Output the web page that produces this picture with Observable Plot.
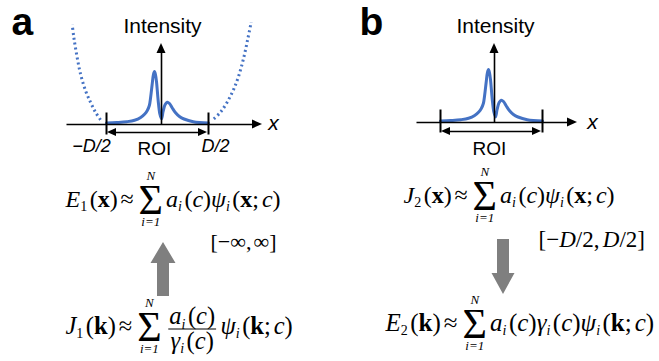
<!DOCTYPE html>
<html><head><meta charset="utf-8">
<script src="https://cdn.jsdelivr.net/npm/d3@7"></script>
<script src="https://cdn.jsdelivr.net/npm/@observablehq/plot@0.6"></script>
<style>html,body{margin:0;padding:0;background:#fff;overflow:hidden}#chart{width:659px;height:361px}</style>
</head><body><div id="chart"></div>
<script>
// ---------------- data ----------------
const panelLetters = ["a", "b"];
const axisTitle = "Intensity";
const axisVar = "x";
const roiLabel = "ROI";
const edgeLabels = ["−D/2", "D/2"];

// field intensity profile (u: position, -1 = -D/2, +1 = D/2; i: intensity)
const profileU = [-1, -0.8, -0.6, -0.45, -0.33, -0.25, -0.2, -0.16, -0.135, -0.105, -0.08, -0.059, -0.04, -0.02, 0.013, 0.046, 0.08, 0.11, 0.15, 0.19, 0.235, 0.29, 0.35, 0.43, 0.52, 0.7, 1];
const profileI = [1.5, 2, 2.8, 4.2, 7, 10.5, 14, 19, 27, 40, 50, 53, 50, 43, 24, 10.5, 5.5, 13, 20, 22.3, 21, 16.5, 12, 8, 5.5, 2.8, 1.5];
// dotted walls outside the ROI (panel a)
const wallLeftU = [-1.118, -1.216, -1.314, -1.412, -1.51, -1.588, -1.641, -1.673];
const wallLeftI = [4.7, 12.3, 22.3, 34, 50.7, 70.7, 87.3, 100];
const wallRightU = [1.104, 1.235, 1.366, 1.497, 1.595, 1.693, 1.771, 1.837];
const wallRightI = [5.7, 12.3, 22.3, 35.7, 49, 67.3, 85.7, 102.3];

// equation tokens
const T = (t, s = "r") => ({k: "t", t, s});
const I = t => T(t, "i"), R = t => T(t, "r"), B = t => T(t, "b");
const Sp = em => ({k: "sp", em});
const Sub = (t, s = "r") => ({k: "sub", t, s});
const Sum = () => ({k: "sum"});
const Frac = (num, den) => ({k: "frac", num, den});
const ai = [I("a"), Sub("i", "i"), R("("), I("c"), R(")")];
const gi = [I("γ"), Sub("i", "i"), R("("), I("c"), R(")")];
const psi = v => [I("ψ"), Sub("i", "i"), R("("), B(v), R(";"), Sp(0.12), I("c"), R(")")];
const approx = [Sp(0.12), R("≈"), Sp(0.12)];
const eqE1 = [I("E"), Sub("1"), R("("), B("x"), R(")"), ...approx, Sum(), ...ai, ...psi("x")];
const eqJ1 = [I("J"), Sub("1"), R("("), B("k"), R(")"), ...approx, Sum(), Sp(0.15), Frac(ai, gi), Sp(0.1), ...psi("k")];
const eqJ2 = [I("J"), Sub("2"), R("("), B("x"), R(")"), ...approx, Sum(), ...ai, ...psi("x")];
const eqE2 = [I("E"), Sub("2"), R("("), B("k"), R(")"), ...approx, Sum(), ...ai, ...gi, ...psi("k")];
const rangeA = [R("[−∞,"), Sp(0.1), R("∞]")];
const rangeB = [R("[−"), I("D"), R("/2,"), Sp(0.15), I("D"), R("/2]")];

// ---------------- layout ----------------
const BLUE = "#4472C4", GRAY = "#7F7F7F";
const SANS = "Liberation Sans, Arial, sans-serif", SERIF = "Liberation Serif";
const panelGeom = [
  {letterX: 11, cx: 157, half: 51, axisX: 161, axisY: 124, axisL: 66, axisR: 262, axisTop: 43, tickTop: 112, tickBot: 134, roiY: 132, xLabX: 268, xLabY: 129, roiX: 154, walls: true},
  {letterX: 359, cx: 491, half: 51, axisX: 494, axisY: 122, axisL: 416, axisR: 577, axisTop: 43, tickTop: 109, tickBot: 132, roiY: 131, xLabX: 587, xLabY: 128, roiX: 489, walls: false}
];
const eqPlace = [
  {tokens: eqE1, x: 65, y: 206, size: 24},
  {tokens: eqJ1, x: 65, y: 333, size: 24.5},
  {tokens: eqJ2, x: 403, y: 202, size: 24},
  {tokens: eqE2, x: 385, y: 330, size: 25},
  {tokens: rangeA, x: 210, y: 248, size: 22},
  {tokens: rangeB, x: 538, y: 246, size: 23}
];
const bigArrows = [
  {cx: 163, tail: 296, tip: 242, shaft: 12, head: 25, headLen: 21},
  {cx: 503, tail: 239, tip: 294, shaft: 12, head: 23, headLen: 21}
];
// typesetting metrics (px)
const M = {subSize: 14, subDy: 4.5, subGap: 2.5, sumSize: 42, sumDy: 7, limSize: 13, nDy: -27, lowDy: 19, numDy: -9.5, denDy: 15, barDy: -4.5};

const ctx = document.createElement("canvas").getContext("2d");
function wd(text, st, size) {
  ctx.font = (st === "i" ? "italic " : "") + (st === "b" ? "bold " : "") + size + "px '" + SERIF + "'";
  return ctx.measureText(text).width;
}
function typeset(tokens, x0, base, S, out, bars) {
  let x = x0;
  for (const tk of tokens) {
    if (tk.k === "t") {
      out.push({text: tk.t, st: tk.s, size: S, x, y: base});
      x += wd(tk.t, tk.s, S);
    } else if (tk.k === "sp") {
      x += tk.em * S;
    } else if (tk.k === "sub") {
      const s = M.subSize;
      out.push({text: tk.t, st: tk.s, size: s, x, y: base + M.subDy});
      x += wd(tk.t, tk.s, s) + M.subGap;
    } else if (tk.k === "sum") {
      const s = M.sumSize, sw = wd("Σ", "r", s), cx = x + 2 + sw / 2, ls = M.limSize;
      out.push({text: "Σ", st: "r", size: s, x: cx - sw / 2, y: base + M.sumDy});
      out.push({text: "N", st: "i", size: ls, x: cx - wd("N", "i", ls) / 2, y: base + M.nDy});
      out.push({text: "i=1", st: "i", size: ls, x: cx - wd("i=1", "i", ls) / 2, y: base + M.lowDy});
      x = cx + sw / 2 + 3;
    } else if (tk.k === "frac") {
      const wn = typeset(tk.num, 0, 0, S, [], []), wdn = typeset(tk.den, 0, 0, S, [], []);
      const W = Math.max(wn, wdn) + 2;
      typeset(tk.num, x + (W - wn) / 2, base + M.numDy, S, out, bars);
      typeset(tk.den, x + (W - wdn) / 2, base + M.denDy, S, out, bars);
      bars.push({x1: x, x2: x + W, y1: base + M.barDy, y2: base + M.barDy});
      x += W + 2;
    }
  }
  return x - x0;
}
const glyphs = [], fracBars = [];
for (const e of eqPlace) typeset(e.tokens, e.x, e.y, e.size, glyphs, fracBars);

// line segments, triangles and curves (pixel space)
const segs = [], tris = [], triV = [], curves = [], dotted = [], texts = [];
let tid = 0;
function triH(tipX, y, len, half, dir) { // dir +1 right, -1 left
  const id = tid++;
  const pts = [{id, x: tipX - dir * len, y1: y - half, y2: y + half}, {id, x: tipX, y1: y, y2: y}];
  if (dir < 0) pts.reverse();
  tris.push(...pts);
}
function triVert(x, tipY, len, half, dir) { // dir -1 up, +1 down
  const id = tid++;
  const pts = [{id, y: tipY - dir * len, x1: x - half, x2: x + half}, {id, y: tipY, x1: x, x2: x}];
  if (dir < 0) pts.reverse();
  triV.push(...pts);
}
panelGeom.forEach((g, p) => {
  const X = u => g.cx + u * g.half, Y = v => g.axisY - v;
  segs.push({x1: g.axisL, y1: g.axisY, x2: g.axisR - 9, y2: g.axisY, w: 1.6});
  triH(g.axisR, g.axisY, 10, 4.5, 1);
  segs.push({x1: g.axisX, y1: g.axisY, x2: g.axisX, y2: g.axisTop + 9, w: 1.6});
  triVert(g.axisX, g.axisTop, 10, 4.5, -1);
  for (const u of [-1, 1]) segs.push({x1: X(u), y1: g.tickTop, x2: X(u), y2: g.tickBot, w: 2});
  segs.push({x1: X(-1) + 6, y1: g.roiY, x2: X(1) - 6, y2: g.roiY, w: 1.6});
  triH(X(-1) + 1, g.roiY, 9, 4, -1);
  triH(X(1) - 1, g.roiY, 9, 4, 1);
  profileU.forEach((u, i) => curves.push({p, x: X(u), y: Y(profileI[i])}));
  if (g.walls) {
    wallLeftU.forEach((u, i) => dotted.push({p: "L", x: X(u), y: Y(wallLeftI[i])}));
    wallRightU.forEach((u, i) => dotted.push({p: "R", x: X(u), y: Y(wallRightI[i])}));
    texts.push({t: edgeLabels[0], x: 91, y: 151, size: 18, it: true});
    texts.push({t: edgeLabels[1], x: 215, y: 151, size: 18, it: true});
  }
  texts.push({t: axisTitle, x: g.axisX + 1, y: 32, size: 21, it: false});
  texts.push({t: roiLabel, x: g.roiX, y: 154, size: 19, it: false});
  texts.push({t: axisVar, x: g.xLabX + 5, y: g.xLabY, size: 21, it: true});
});
const letters = panelLetters.map((t, i) => ({t, x: panelGeom[i].letterX, y: 34}));
const bigPts = [];
bigArrows.forEach((a, k) => {
  const dir = Math.sign(a.tip - a.tail), hb = a.tip - dir * a.headLen;
  bigPts.push({k, y: a.tail, x1: a.cx - a.shaft / 2, x2: a.cx + a.shaft / 2});
  bigPts.push({k, y: hb, x1: a.cx - a.shaft / 2, x2: a.cx + a.shaft / 2});
  bigPts.push({k, y: hb, x1: a.cx - a.head / 2, x2: a.cx + a.head / 2});
  bigPts.push({k, y: a.tip, x1: a.cx, x2: a.cx});
});

const serifText = (st, weight, style) => Plot.text(glyphs.filter(d => d.st === st), {
  x: "x", y: "y", text: "text", fontSize: "size", textAnchor: "start", lineAnchor: "bottom",
  fontFamily: SERIF, fontStyle: style, fontWeight: weight, fill: "#000"
});

const chart = Plot.plot({
  width: 659, height: 361, margin: 0,
  x: {domain: [0, 659], range: [0, 659], axis: null},
  y: {domain: [0, 361], range: [0, 361], axis: null},
  style: {background: "#fff", overflow: "visible"},
  marks: [
    Plot.line(dotted, {x: "x", y: "y", z: "p", stroke: BLUE, strokeWidth: 3, strokeDasharray: "2,3", strokeLinecap: "butt", curve: "catmull-rom"}),
    Plot.line(curves, {x: "x", y: "y", z: "p", stroke: BLUE, strokeWidth: 3, curve: "catmull-rom"}),
    Plot.link(segs, {x1: "x1", y1: "y1", x2: "x2", y2: "y2", stroke: "#000", strokeWidth: d => d.w}),
    Plot.areaY(tris, {x: "x", y1: "y1", y2: "y2", z: "id", fill: "#000"}),
    Plot.areaX(triV, {y: "y", x1: "x1", x2: "x2", z: "id", fill: "#000"}),
    Plot.areaX(bigPts, {y: "y", x1: "x1", x2: "x2", z: "k", fill: GRAY}),
    Plot.link(fracBars, {x1: "x1", y1: "y1", x2: "x2", y2: "y2", stroke: "#000", strokeWidth: 1.1}),
    Plot.text(texts.filter(d => !d.it), {x: "x", y: "y", text: "t", fontSize: "size", lineAnchor: "bottom", fontFamily: SANS, fill: "#000"}),
    Plot.text(texts.filter(d => d.it), {x: "x", y: "y", text: "t", fontSize: "size", lineAnchor: "bottom", fontFamily: SANS, fontStyle: "italic", fill: "#000"}),
    Plot.text(letters, {x: "x", y: "y", text: "t", fontSize: 39, lineAnchor: "bottom", textAnchor: "start", fontFamily: SANS, fontWeight: "bold", fill: "#000"}),
    serifText("r", "normal", "normal"),
    serifText("i", "normal", "italic"),
    serifText("b", "bold", "normal")
  ]
});
document.getElementById("chart").appendChild(chart);
</script>
</body></html>
